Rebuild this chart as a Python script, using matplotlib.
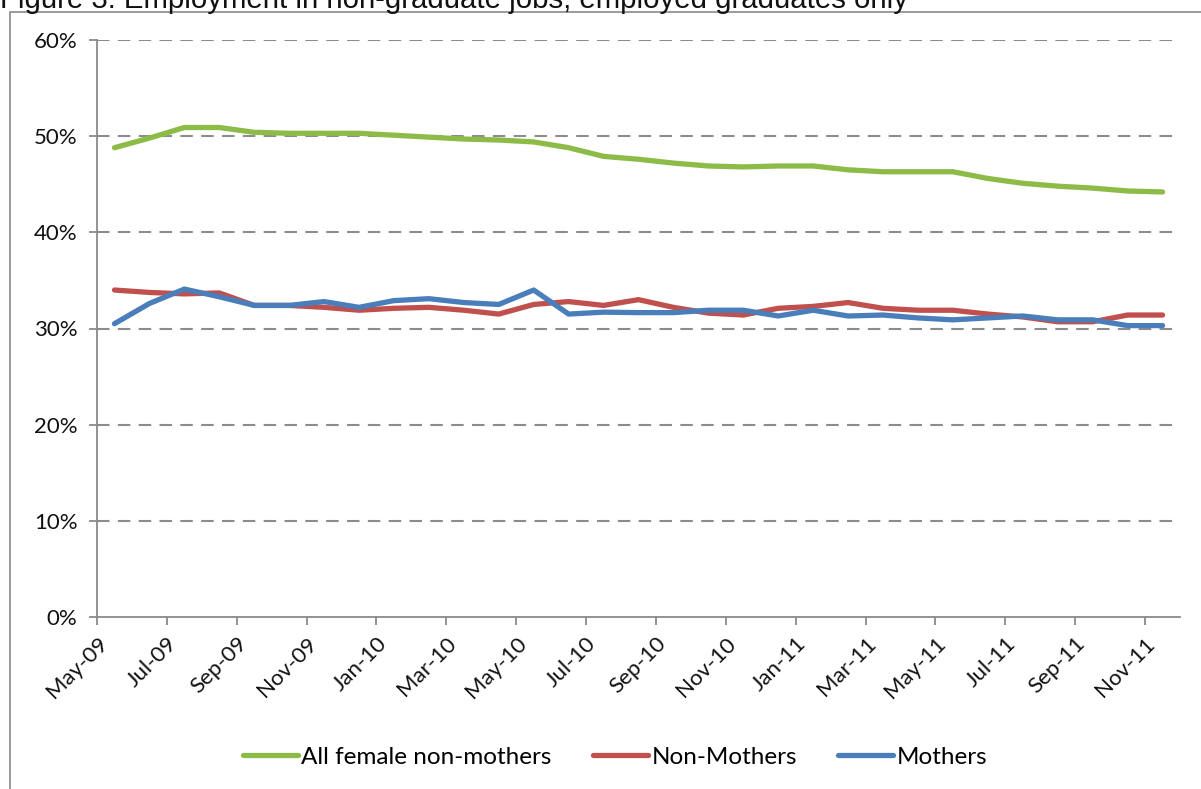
import pandas as pd
import numpy as np
import matplotlib
matplotlib.use("Agg")
import matplotlib.pyplot as plt
from matplotlib.patches import Rectangle

# monthly series, May-09 to Nov-11 (percent)
months = pd.date_range("2009-05-01", periods=31, freq="MS")

all_female_non_mothers = [48.8, 49.8, 50.9, 50.9, 50.4, 50.3, 50.3, 50.3, 50.1, 49.9,
                          49.7, 49.6, 49.4, 48.8, 47.9, 47.6, 47.2, 46.9, 46.8, 46.9,
                          46.9, 46.5, 46.3, 46.3, 46.3, 45.6, 45.1, 44.8, 44.6, 44.3,
                          44.2]
non_mothers = [34.0, 33.75, 33.6, 33.7, 32.4, 32.4, 32.2, 31.9, 32.1, 32.2,
               31.9, 31.5, 32.5, 32.8, 32.4, 33.0, 32.2, 31.6, 31.4, 32.1,
               32.3, 32.7, 32.1, 31.9, 31.9, 31.5, 31.2, 30.7, 30.7, 31.4,
               31.4]
mothers = [30.5, 32.6, 34.1, 33.3, 32.4, 32.4, 32.8, 32.2, 32.9, 33.1,
           32.7, 32.5, 34.0, 31.5, 31.7, 31.65, 31.65, 31.9, 31.9, 31.3,
           31.9, 31.3, 31.4, 31.1, 30.9, 31.1, 31.3, 30.9, 30.9, 30.3,
           30.3]

tick_labels = [m.strftime("%b-%y") for m in months[::2]]

plt.rcParams["font.family"] = ["Lato", "DejaVu Sans"]

fig = plt.figure(figsize=(12.01, 7.89), dpi=100)
ax = fig.add_axes([97 / 1201, 1 - 617 / 789, (1180 - 97) / 1201, (617 - 40) / 789])

# chart frame (cut off on the right and bottom, like the source)
fig.patches.append(Rectangle((10 / 1201, -0.05), 1.2, 1 - 12 / 789 + 0.05,
                             transform=fig.transFigure, fill=False,
                             edgecolor="#8a8a8a", linewidth=1.2))

# title is cropped at the top edge in the source image
fig.text(0.0, 1.0, "Figure 3: Employment in non-graduate jobs, employed graduates only",
         ha="left", va="center", fontsize=21.2, family=["Liberation Sans"], color="#111111")

x = np.arange(len(months)) + 0.5
ax.plot(x, all_female_non_mothers, color="#8DBB48", lw=3.8, label="All female non-mothers",
        solid_capstyle="round", solid_joinstyle="round")
ax.plot(x, non_mothers, color="#C0504D", lw=3.8, label="Non-Mothers",
        solid_capstyle="round", solid_joinstyle="round")
ax.plot(x, mothers, color="#4A7EBB", lw=3.8, label="Mothers",
        solid_capstyle="round", solid_joinstyle="round")

ax.set_xlim(0, len(months))
ax.set_ylim(0, 60)
ax.set_yticks(range(0, 61, 10))
ax.set_yticklabels([f"{v}%" for v in range(0, 61, 10)], fontsize=16)
ax.set_xticks(np.arange(0, len(months), 2))
ax.set_xticklabels(tick_labels, rotation=45, ha="right", rotation_mode="anchor", fontsize=16)

for v in range(10, 61, 10):
    ax.axhline(v, color="#8c8c8c", lw=1.5, dashes=(6, 4), zorder=0)

for s in ["top", "right"]:
    ax.spines[s].set_visible(False)
for s in ["left", "bottom"]:
    ax.spines[s].set_color("#8a8a8a")
    ax.spines[s].set_linewidth(1.3)
ax.tick_params(axis="both", colors="#8a8a8a", length=6, width=1.3, labelcolor="#111111")
ax.tick_params(axis="y", pad=8)
ax.tick_params(axis="x", pad=6)

fig.legend(loc="center", bbox_to_anchor=(615 / 1201, 1 - 757 / 789), ncol=3,
           frameon=False, fontsize=17.5, handlelength=2.25, handletextpad=0.15,
           columnspacing=1.7)

fig.savefig("out.png", dpi=100)
